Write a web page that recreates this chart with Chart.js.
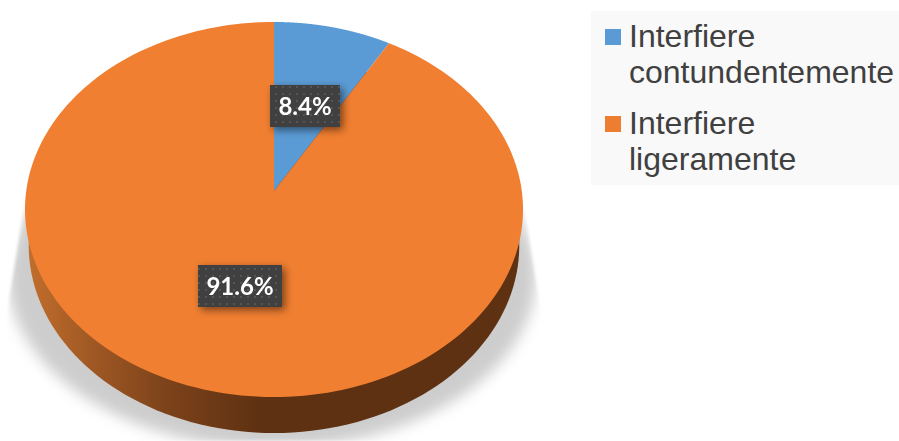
<!DOCTYPE html>
<html>
<head>
<meta charset="utf-8">
<script src="https://cdn.jsdelivr.net/npm/chart.js@4"></script>
<style>
  body { margin: 0; background: #fff; overflow: hidden; }
  #wrap { position: relative; width: 899px; height: 441px; }
  #legend { position: absolute; left: 591px; top: 11px; width: 308px; height: 174px; background: #f9f9f9; }
  .item { position: absolute; left: 38px; width: 270px; font: 32px/36px "Liberation Sans", Arial, sans-serif; color: #404040; }
  .box { position: absolute; left: -24px; top: 11px; width: 16px; height: 16px; }
</style>
</head>
<body>
<div id="wrap">
  <canvas id="pie" width="899" height="441"></canvas>
  <div id="legend"></div>
</div>
<script>
const categories = ["Interfiere contundentemente", "Interfiere ligeramente"];
const values = [8.4, 91.6];
const sliceColors = ["#5b9bd5", "#f17f31"];
const legendColors = ["#5b9bd5", "#ed7d31"];

// perspective of the tilted disc (unit circle -> screen)
const RX = 247.8, RY = 185.7, TILT = 0.0987, DEPTH = 36;

function project(el, angle, t) {
  const u = Math.cos(angle) * t, v = -Math.sin(angle) * t;
  const w = 1 + TILT * v;
  return [el.x + RX * u / w, el.y - RY * v / w];
}

function discPath(ctx, el, dy, shrink) {
  ctx.beginPath();
  for (let i = 0; i <= 180; i++) {
    const p = project(el, i / 180 * Math.PI * 2, 1);
    const x = el.x + (p[0] - el.x) * shrink;
    ctx.lineTo(x, p[1] + dy);
  }
  ctx.closePath();
}

function drawShadow(ctx, cx) {
  const off = document.createElement("canvas");
  off.width = 899;
  off.height = 441;
  const oc = off.getContext("2d");
  // wedge that the shadow is cut to at the sides
  oc.beginPath();
  oc.moveTo(cx - 249, 200);
  oc.lineTo(cx - 265, 300);
  oc.lineTo(cx - 274, 441);
  oc.lineTo(cx + 286, 441);
  oc.lineTo(cx + 265, 300);
  oc.lineTo(cx + 249, 200);
  oc.closePath();
  oc.clip();
  oc.filter = "blur(7px)";
  oc.fillStyle = "#cdcdcd";
  oc.beginPath();
  oc.ellipse(cx - 2, 276, 264, 172, 0, 0, Math.PI * 2);
  oc.fill();

  ctx.save();
  ctx.filter = "blur(1.5px)";
  ctx.drawImage(off, 0, 0);
  ctx.restore();
}

const tiltedPie = {
  id: "tiltedPie",
  beforeDatasetDraw(chart) {
    const ctx = chart.ctx;
    const arcs = chart.getDatasetMeta(0).data;
    const first = arcs[0];

    drawShadow(ctx, first.x);

    // side wall
    const side = ctx.createLinearGradient(30, 0, 260, 0);
    side.addColorStop(0, "#c06d2c");
    side.addColorStop(0.3, "#9c5623");
    side.addColorStop(0.6, "#7c421a");
    side.addColorStop(1, "#5e3112");
    ctx.fillStyle = side;
    discPath(ctx, first, DEPTH, 0.985);
    ctx.fill();

    // top face, angles come from the library
    arcs.forEach((el) => {
      ctx.beginPath();
      const c = project(el, 0, 0);
      ctx.moveTo(c[0], c[1]);
      const n = 200;
      for (let i = 0; i <= n; i++) {
        const a = el.startAngle + (el.endAngle - el.startAngle) * i / n;
        const p = project(el, a, 1);
        ctx.lineTo(p[0], p[1]);
      }
      ctx.closePath();
      ctx.fillStyle = el.options.backgroundColor;
      ctx.fill();
    });
    return false;
  },
  afterDatasetsDraw(chart) {
    const ctx = chart.ctx;
    const arcs = chart.getDatasetMeta(0).data;

    const tile = document.createElement("canvas");
    tile.width = tile.height = 7;
    const tc = tile.getContext("2d");
    tc.fillStyle = "#404040";
    tc.fillRect(0, 0, 7, 7);
    tc.fillStyle = "#555555";
    tc.fillRect(2, 2, 2, 2);
    const dots = ctx.createPattern(tile, "repeat");

    arcs.forEach((el, i) => {
      const text = values[i].toFixed(1) + "%";
      const p = project(el, (el.startAngle + el.endAngle) / 2, 0.5);
      ctx.font = "bold 24px Lato, sans-serif";
      const w = Math.round(ctx.measureText(text).width) + 17, h = 42;
      const x = Math.round(p[0] - w / 2), y = Math.round(p[1] - h / 2) + 1;
      ctx.save();
      ctx.shadowColor = "rgba(0,0,0,0.5)";
      ctx.shadowBlur = 8;
      ctx.shadowOffsetX = 3;
      ctx.shadowOffsetY = 3;
      ctx.fillStyle = "#404040";
      ctx.fillRect(x, y, w, h);
      ctx.restore();
      ctx.fillStyle = dots;
      ctx.fillRect(x, y, w, h);
      ctx.fillStyle = "#ffffff";
      ctx.textAlign = "center";
      ctx.textBaseline = "middle";
      ctx.fillText(text, x + w / 2, y + h / 2 + 1);
    });
  }
};

new Chart(document.getElementById("pie"), {
  type: "pie",
  data: {
    labels: categories,
    datasets: [{ data: values, backgroundColor: sliceColors, borderWidth: 0 }]
  },
  options: {
    responsive: false,
    animation: false,
    layout: { padding: { right: 351, bottom: 59 } },
    plugins: { legend: { display: false }, tooltip: { enabled: false } }
  },
  plugins: [tiltedPie]
});

// legend on the right
const legend = document.getElementById("legend");
const itemTops = [7, 94];
categories.forEach((name, i) => {
  const item = document.createElement("div");
  item.className = "item";
  item.style.top = itemTops[i] + "px";
  item.textContent = name;
  const box = document.createElement("span");
  box.className = "box";
  box.style.background = legendColors[i];
  item.appendChild(box);
  legend.appendChild(item);
});
</script>
</body>
</html>
